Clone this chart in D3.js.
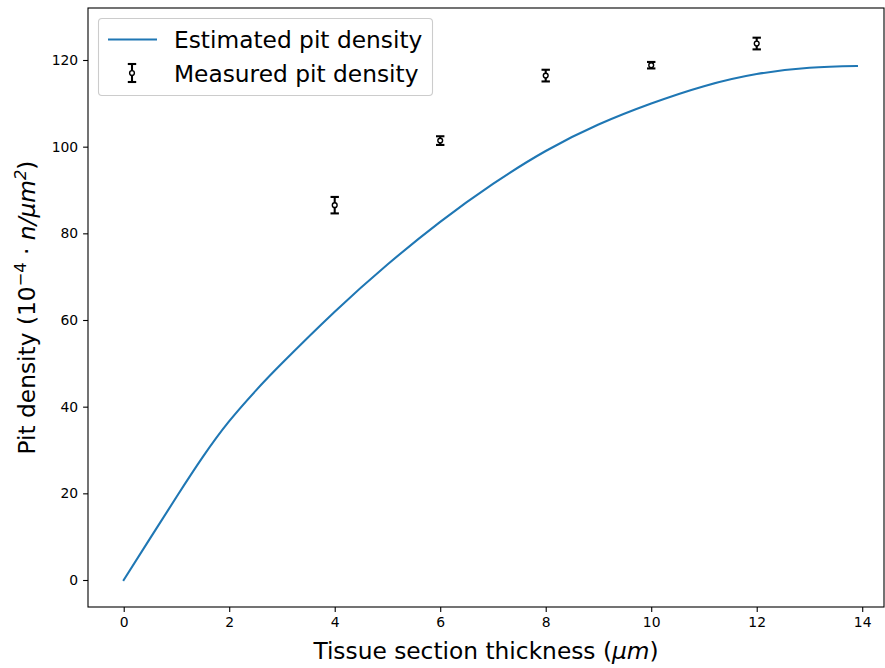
<!DOCTYPE html>
<html><head><meta charset="utf-8">
<script src="https://cdn.jsdelivr.net/npm/d3@7"></script>
<style>body{margin:0;background:#fff}svg{display:block}text{font-family:"DejaVu Sans",sans-serif;fill:#000}</style>
</head><body>
<svg id="c" width="885" height="668"></svg>
<script>
// Estimated curve
const curveX = [0, 0.5, 1, 1.5, 2, 2.5, 3, 4, 5, 6, 7, 8, 9, 10, 11, 12, 13, 13.9];
const curveY = [0, 9.6, 19.15, 28.4, 36.65, 43.65, 50.0, 61.9, 72.8, 82.65, 91.4, 99.0, 105.1, 109.95, 113.95, 116.75, 118.2, 118.6];
// Measured points
const measX = [4, 6, 8, 10, 12];
const measY = [86.5, 101.4, 116.4, 118.8, 123.8];
const measErr = [1.9, 1.0, 1.35, 0.75, 1.35];
// Ticks
const xTicks = [0, 2, 4, 6, 8, 10, 12, 14];
const yTicks = [0, 20, 40, 60, 80, 100, 120];

const svg = d3.select("#c");
const L = 88, R = 884, T = 8, B = 607;
const x = d3.scaleLinear().domain([-0.677, 14.413]).range([L, R]);
const y = d3.scaleLinear().domain([-6.23, 132.0]).range([B, T]);

// curve
const pts = curveX.map((v, i) => [v, curveY[i]]);
svg.append("path").datum(pts)
  .attr("d", d3.line().x(d => x(d[0])).y(d => y(d[1])).curve(d3.curveNatural))
  .attr("fill", "none").attr("stroke", "#1f77b4").attr("stroke-width", 2.08)
  .attr("stroke-linecap", "square");

// error bars
const meas = measX.map((v, i) => ({x: v, y: measY[i], e: measErr[i]}));
const g = svg.append("g");
meas.forEach(d => {
  const cx = x(d.x), y1 = y(d.y - d.e), y2 = y(d.y + d.e);
  g.append("line").attr("x1", cx).attr("x2", cx).attr("y1", y1).attr("y2", y2)
    .attr("stroke", "#000").attr("stroke-width", 2.08);
  [y1, y2].forEach(yy => g.append("line").attr("x1", cx - 4.2).attr("x2", cx + 4.2)
    .attr("y1", yy).attr("y2", yy).attr("stroke", "#000").attr("stroke-width", 2.08));
  g.append("circle").attr("cx", cx).attr("cy", y(d.y)).attr("r", 2.4)
    .attr("fill", "#fff").attr("stroke", "#000").attr("stroke-width", 1.4);
});

// axes
const xAxis = d3.axisBottom(x).tickValues(xTicks).tickSize(4.9).tickPadding(4.9).tickFormat(d3.format("d"));
const yAxis = d3.axisLeft(y).tickValues(yTicks).tickSize(4.9).tickPadding(4.9).tickFormat(d3.format("d"));
const gx = svg.append("g").attr("transform", `translate(0,${B})`).call(xAxis);
const gy = svg.append("g").attr("transform", `translate(${L},0)`).call(yAxis);
[gx, gy].forEach(a => {
  a.select(".domain").remove();
  a.selectAll(".tick line").attr("stroke", "#000").attr("stroke-width", 1.1);
  a.selectAll(".tick text").attr("font-size", "13.9px").attr("font-family", "DejaVu Sans").attr("fill", "#000");
});
// spines
svg.append("rect").attr("x", L).attr("y", T).attr("width", R - L).attr("height", B - T)
  .attr("fill", "none").attr("stroke", "#000").attr("stroke-width", 1.1);

const FS = 23.3, SS = 16.3, SH = 9.5;
// x label
const xl = svg.append("text").attr("x", (L + R) / 2).attr("y", 659).attr("text-anchor", "middle")
  .attr("font-size", FS + "px");
xl.append("tspan").text("Tissue section thickness (");
xl.append("tspan").attr("font-style", "italic").text("μm");
xl.append("tspan").text(")");

// y label
const yl = svg.append("text").attr("transform", `translate(35,${(T + B) / 2}) rotate(-90)`)
  .attr("text-anchor", "middle").attr("font-size", FS + "px");
yl.append("tspan").text("Pit density (10");
yl.append("tspan").attr("font-size", SS + "px").attr("dy", -SH).text("−4");
yl.append("tspan").attr("dy", SH).text(" · ");
yl.append("tspan").attr("font-style", "italic").text("n/μm");
yl.append("tspan").attr("font-size", SS + "px").attr("font-style", "italic").attr("dy", -SH).text("2");
yl.append("tspan").attr("dy", SH).text(")");

// legend
const lg = svg.append("g");
lg.append("rect").attr("x", 98.5).attr("y", 18.5).attr("width", 334).attr("height", 77).attr("rx", 3.5)
  .attr("fill", "#fff").attr("fill-opacity", 0.8).attr("stroke", "#cccccc").attr("stroke-width", 1.1);
lg.append("line").attr("x1", 108).attr("x2", 157).attr("y1", 39.5).attr("y2", 39.5)
  .attr("stroke", "#1f77b4").attr("stroke-width", 2.08);
lg.append("text").attr("x", 174).attr("y", 47.5).attr("font-size", FS + "px").text("Estimated pit density");
const lx = 132, ly = 73;
lg.append("line").attr("x1", lx).attr("x2", lx).attr("y1", ly - 9).attr("y2", ly + 9).attr("stroke", "#000").attr("stroke-width", 2.08);
[ly - 9, ly + 9].forEach(yy => lg.append("line").attr("x1", lx - 4.2).attr("x2", lx + 4.2).attr("y1", yy).attr("y2", yy).attr("stroke", "#000").attr("stroke-width", 2.08));
lg.append("circle").attr("cx", lx).attr("cy", ly).attr("r", 2.4).attr("fill", "#fff").attr("stroke", "#000").attr("stroke-width", 1.4);
lg.append("text").attr("x", 174).attr("y", 81.5).attr("font-size", FS + "px").text("Measured pit density");
</script>
</body></html>
